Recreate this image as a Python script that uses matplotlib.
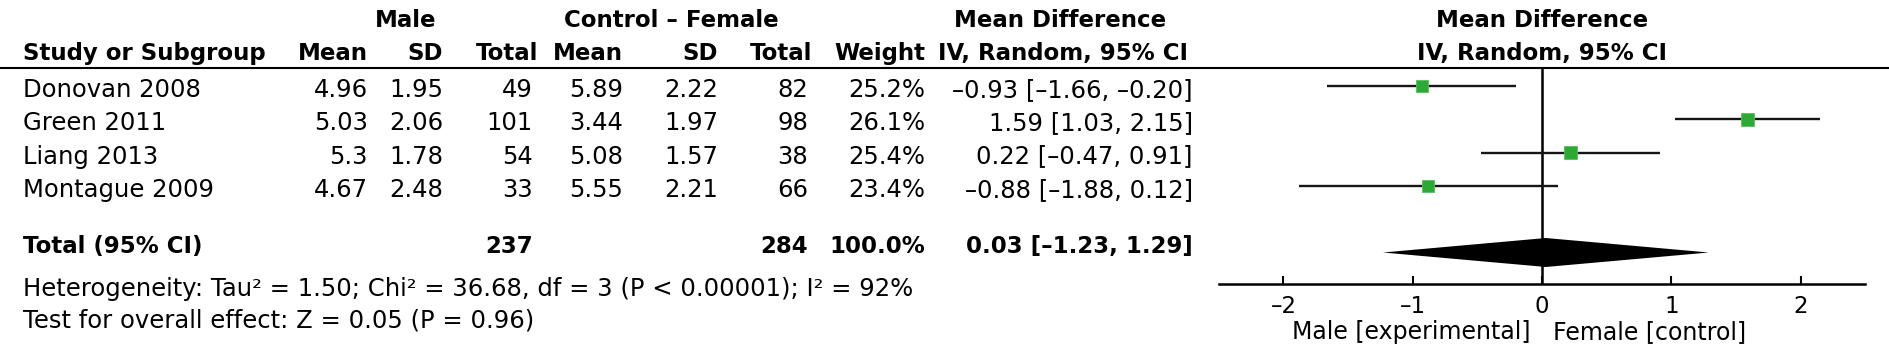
import matplotlib
matplotlib.use("Agg")
import matplotlib.pyplot as plt
import matplotlib.transforms as mtransforms
import numpy as np

# study level data
studies = ["Donovan 2008", "Green 2011", "Liang 2013", "Montague 2009"]
male_mean = [4.96, 5.03, 5.3, 4.67]
male_sd = [1.95, 2.06, 1.78, 2.48]
male_n = [49, 101, 54, 33]
fem_mean = [5.89, 3.44, 5.08, 5.55]
fem_sd = [2.22, 1.97, 1.57, 2.21]
fem_n = [82, 98, 38, 66]
weights = [25.2, 26.1, 25.4, 23.4]
md = [-0.93, 1.59, 0.22, -0.88]
ci_lo = [-1.66, 1.03, -0.47, -1.88]
ci_hi = [-0.20, 2.15, 0.91, 0.12]

# pooled result
total_male_n = 237
total_fem_n = 284
total_weight = 100.0
total_md = 0.03
total_lo = -1.23
total_hi = 1.29

heterogeneity = "Heterogeneity: Tau² = 1.50; Chi² = 36.68, df = 3 (P < 0.00001); I² = 92%"
overall = "Test for overall effect: Z = 0.05 (P = 0.96)"
x_ticks = [-2, -1, 0, 1, 2]
left_label = "Male [experimental]"
right_label = "Female [control]"

FS = 17.5      # regular text
FSB = 16.5     # bold headers
W, H = 1890, 352
row0, row_h = 86, 33.3   # pixel y of first study row, row spacing


def dash(s):
    return s.replace("-", "\u2013")


def ci_str(m, lo, hi):
    return dash(f"{m:.2f} [{lo:.2f}, {hi:.2f}]")


fig = plt.figure(figsize=(W / 100, H / 100), dpi=100)

# table axes: x in pixels, y in row units
ax_t = fig.add_axes([0, 0, 1, 1])
ax_t.set_xlim(0, W)
ax_t.set_ylim((H - row0) / row_h, -row0 / row_h)
ax_t.axis("off")

# forest axes: x in effect units, same row units for y
pix_unit = 129.3
x0_pix = 1542
xl, xr = -2.5, 2.5
f_top, f_bot = 68, 284
ax_f = fig.add_axes([(x0_pix + xl * pix_unit) / W, (H - f_bot) / H,
                     (xr - xl) * pix_unit / W, (f_bot - f_top) / H])
ax_f.set_xlim(xl, xr)
ax_f.set_ylim((f_bot - row0) / row_h, (f_top - row0) / row_h)
ax_f.set_facecolor("none")

rule_y = (f_top - row0) / row_h
ax_t.axhline(rule_y, color="black", lw=1.5)

cols = [
    (23, "left"), (368, "right"), (443, "right"), (533, "right"),
    (623, "right"), (718, "right"), (808, "right"), (925, "right"), (1193, "right"),
]

# header lines
hdr1_y, hdr2_y = -1.77, -0.78
bold = dict(fontsize=FSB, fontweight="bold", va="baseline")
ax_t.text(406, hdr1_y, "Male", ha="center", **bold)
ax_t.text(671, hdr1_y, "Control \u2013 Female", ha="center", **bold)
ax_t.text(1060, hdr1_y, "Mean Difference", ha="center", **bold)
hdr2 = ["Study or Subgroup", "Mean", "SD", "Total", "Mean", "SD", "Total", "Weight"]
hdr2_x = [23, 368, 443, 538, 623, 718, 812, 925]
for lab, x in zip(hdr2, hdr2_x):
    ax_t.text(x, hdr2_y, lab, ha="left" if x == 23 else "right", **bold)
ax_t.text(1063, hdr2_y, "IV, Random, 95% CI", ha="center", **bold)

blend = mtransforms.blended_transform_factory(ax_f.transData, ax_t.transData)
ax_t.text(0, hdr1_y, "Mean Difference", ha="center", transform=blend, **bold)
ax_t.text(0, hdr2_y, "IV, Random, 95% CI", ha="center", transform=blend, **bold)

# study rows
rows = np.arange(len(studies))
for i, r in enumerate(rows):
    vals = [studies[i], str(male_mean[i]), f"{male_sd[i]:.2f}", str(male_n[i]),
            str(fem_mean[i]), f"{fem_sd[i]:.2f}", str(fem_n[i]),
            f"{weights[i]:.1f}%", ci_str(md[i], ci_lo[i], ci_hi[i])]
    for v, (x, ha) in zip(vals, cols):
        ax_t.text(x, r + 0.33, v, ha=ha, va="baseline", fontsize=FS)

# total row
total_row = len(studies) + 1
ty = total_row + 0.015
ax_t.text(23, ty, "Total (95% CI)", ha="left", **bold)
ax_t.text(533, ty, str(total_male_n), ha="right", **bold)
ax_t.text(808, ty, str(total_fem_n), ha="right", **bold)
ax_t.text(925, ty, f"{total_weight:.1f}%", ha="right", **bold)
ax_t.text(1193, ty, ci_str(total_md, total_lo, total_hi), ha="right", **bold)

ax_t.text(23, 6.31, heterogeneity, ha="left", va="baseline", fontsize=FS)
ax_t.text(23, 7.24, overall, ha="left", va="baseline", fontsize=FS)

# forest plot
ax_f.axvline(0, color="black", lw=1.8, zorder=1)
ax_f.hlines(rows, ci_lo, ci_hi, color="#151515", lw=1.7, zorder=2)
sizes = 8.8 * np.sqrt(np.array(weights) / 25.0)
ax_f.scatter(md, rows, s=sizes ** 2, marker="s", color="#2DAA36",
             edgecolor="#55c05c", linewidth=0.6, zorder=3)
dh = 0.435
ax_f.fill([total_lo, total_md, total_hi, total_md],
          [total_row, total_row - dh, total_row, total_row + dh],
          color="black", lw=0, zorder=3)

for s in ["left", "right", "top"]:
    ax_f.spines[s].set_visible(False)
ax_f.spines["bottom"].set_linewidth(1.8)
ax_f.set_yticks([])
ax_f.set_xticks(x_ticks, [dash(f"{t:g}") for t in x_ticks])
ax_f.tick_params(axis="x", direction="in", length=6, width=1.5,
                 labelsize=16.5, pad=8)

ax_t.text(-0.09, 7.6, left_label, ha="right", va="baseline", fontsize=17, transform=blend)
ax_t.text(0.085, 7.6, right_label, ha="left", va="baseline", fontsize=17, transform=blend)

fig.savefig("out.png", dpi=100)
